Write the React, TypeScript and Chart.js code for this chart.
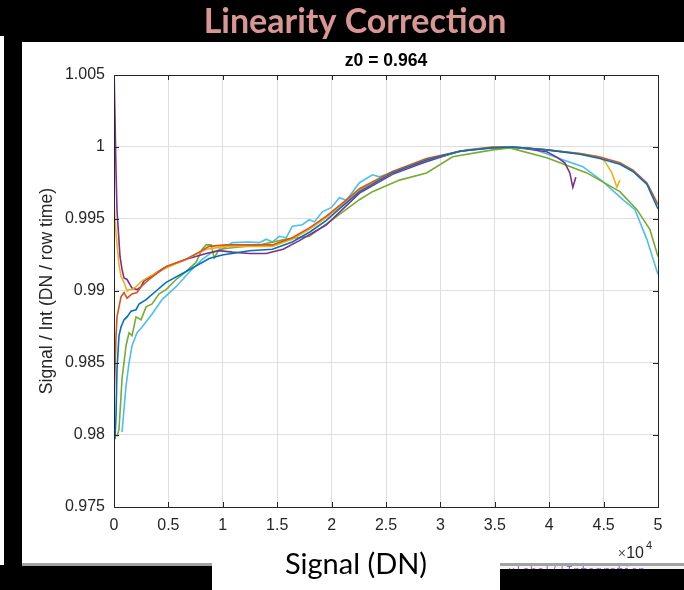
import React, { useEffect, useRef } from "react";
import { Chart, registerables } from "chart.js";

Chart.register(...registerables);

// ---------- data ----------
const headline = "Linearity Correction";
const plotTitle = "z0 = 0.964";
const yAxisTitle = "Signal / Int (DN / row time)";
const xAxisTitle = "Signal (DN)";
const xExponent = "4";

const xTickValues = [0, 5000, 10000, 15000, 20000, 25000, 30000, 35000, 40000, 45000, 50000];
const xTickLabels = ["0", "0.5", "1", "1.5", "2", "2.5", "3", "3.5", "4", "4.5", "5"];
const yTickValues = [0.975, 0.98, 0.985, 0.99, 0.995, 1.0, 1.005];
const yTickLabels = ["0.975", "0.98", "0.985", "0.99", "0.995", "1", "1.005"];

const blueX = [92, 184, 276, 460, 645, 921, 1197, 1565, 2026, 2302, 2947, 3868, 4788, 6630, 8748, 9945, 12431, 14549, 16390, 18000, 19521, 21000, 22560, 25598, 28729, 31768, 34806, 36648, 39779, 42816, 44658, 46500, 47697, 48986, 50000];
const blueY = [0.9797, 0.9813, 0.9846, 0.9869, 0.9875, 0.988, 0.9882, 0.9886, 0.9887, 0.9891, 0.9894, 0.99, 0.9906, 0.99135, 0.99225, 0.9925, 0.9928, 0.9929, 0.9934, 0.9941, 0.9949, 0.9959, 0.9969, 0.9982, 0.9991, 0.9997, 0.99995, 1.0, 0.9998, 0.9995, 0.9992, 0.9988, 0.9983, 0.9974, 0.9957];

const orangeX = [0, 184, 276, 460, 645, 921, 1197, 1657, 2118, 2486, 3223, 4788, 6630, 7827, 8748, 10313, 12431, 14549, 16390, 18000, 19521, 21000, 22560, 25598, 28729, 31768, 34806, 36648, 39779, 42816, 44658, 46500, 47697, 48986, 50000];
const orangeY = [0.9825, 0.9868, 0.9882, 0.9889, 0.9896, 0.9899, 0.9895, 0.9898, 0.9899, 0.9903, 0.9908, 0.9917, 0.9922, 0.9927, 0.9931, 0.9932, 0.9932, 0.9932, 0.9937, 0.9944, 0.9952, 0.9961, 0.9971, 0.9983, 0.9992, 0.9997, 1.0, 1.0, 0.9998, 0.99955, 0.9993, 0.9989, 0.9984, 0.9975, 0.996];

const yellowX = [0, 92, 184, 460, 645, 921, 1197, 1381, 1657, 2026, 2578, 3223, 4788, 6630, 8471, 10313, 12431, 14549, 16390, 18000, 19521, 21000, 22560, 25598, 28729, 31768, 34806, 36648, 39779, 42816, 44658, 45119, 45763, 46224, 46500];
const yellowY = [0.9962, 0.995, 0.994, 0.9918, 0.991, 0.9906, 0.99, 0.9901, 0.9901, 0.9903, 0.9907, 0.991, 0.9916, 0.9922, 0.9929, 0.9931, 0.9931, 0.9931, 0.9936, 0.9943, 0.9951, 0.996, 0.997, 0.9982, 0.9991, 0.9997, 1.0, 1.0, 0.9998, 0.99955, 0.9993, 0.999, 0.9982, 0.9972, 0.9977];

const purpleX = [0, 92, 184, 276, 552, 737, 921, 1197, 1657, 2118, 2486, 2762, 3407, 3960, 4604, 6630, 8471, 9668, 10865, 12431, 14000, 15545, 17035, 19521, 22560, 25598, 28729, 31768, 34806, 36648, 39779, 40700, 41436, 41896, 42172, 42448];
const purpleY = [1.0055, 1.002, 0.9984, 0.9956, 0.9924, 0.9915, 0.9909, 0.9908, 0.9902, 0.9901, 0.9903, 0.9907, 0.991, 0.9913, 0.9916, 0.9922, 0.9926, 0.9928, 0.9927, 0.9926, 0.9926, 0.9929, 0.9935, 0.9946, 0.9968, 0.9981, 0.999, 0.9997, 0.99995, 1.0, 0.99967, 0.9993, 0.9989, 0.9982, 0.9972, 0.9979];

const greenX = [276, 460, 645, 737, 1105, 1381, 1657, 2026, 2486, 2947, 3499, 4144, 4788, 5709, 6630, 7551, 8103, 8471, 8932, 9208, 9668, 10865, 13352, 15838, 17956, 20073, 22560, 23757, 26243, 28729, 31123, 34806, 36372, 39779, 43461, 46500, 48065, 49263, 50000];
const greenY = [0.9799, 0.9804, 0.9827, 0.9839, 0.9862, 0.9871, 0.9869, 0.9882, 0.988, 0.9889, 0.9891, 0.9898, 0.9901, 0.9908, 0.99135, 0.992, 0.9929, 0.9932, 0.9932, 0.9923, 0.9929, 0.993, 0.9932, 0.9936, 0.9938, 0.99495, 0.99634, 0.9969, 0.9977, 0.9982, 0.99932, 0.9998, 0.99994, 0.99925, 0.9982, 0.9969, 0.99565, 0.99426, 0.9924];

const lightBlueX = [737, 1105, 1381, 1657, 2118, 2578, 3499, 4420, 5709, 6906, 8103, 9024, 9945, 10865, 12431, 13352, 13997, 14549, 15193, 15838, 16390, 17311, 17956, 18416, 19153, 19981, 20718, 21363, 22560, 23757, 24401, 26243, 28729, 30571, 32412, 34254, 38213, 41252, 43093, 44935, 46776, 47881, 48986, 50000];
const lightBlueY = [0.9802, 0.9834, 0.985, 0.9862, 0.9871, 0.9875, 0.9884, 0.9894, 0.9903, 0.9913, 0.9922, 0.9927, 0.9929, 0.99336, 0.9934, 0.99336, 0.9936, 0.9934, 0.9938, 0.9937, 0.9945, 0.9946, 0.99495, 0.9948, 0.9955, 0.9958, 0.99648, 0.9963, 0.99752, 0.99807, 0.99793, 0.99842, 0.99897, 0.99946, 0.9998, 0.99994, 0.99994, 0.99911, 0.99863, 0.99759, 0.99634, 0.99565, 0.99357, 0.99114];

const seriesX = [blueX, orangeX, yellowX, purpleX, greenX, lightBlueX];
const seriesY = [blueY, orangeY, yellowY, purpleY, greenY, lightBlueY];
const seriesColors = ["#0072BD", "#D95319", "#EDB120", "#7E2F8E", "#77AC30", "#4DBEEE"];

// ---------- layout ----------
const W = 684;
const H = 590;
const AREA = { left: 114, top: 75, right: 658, bottom: 507 };
const AX = "#262626";
const SANS = "'Liberation Sans', Arial, Helvetica, sans-serif";

const decor = {
  id: "decor",
  beforeDraw(chart: any) {
    const ctx = chart.ctx;
    ctx.save();
    ctx.fillStyle = "#000";
    ctx.fillRect(0, 0, W, H);
    ctx.fillStyle = "#fff";
    ctx.fillRect(22, 42, W - 22, 521);
    ctx.fillRect(0, 36, 4, 529);
    ctx.fillStyle = "#a3a3a3";
    ctx.fillRect(22, 563, W - 22, 3);
    // faint clipped code text at lower right
    ctx.save();
    ctx.beginPath();
    ctx.rect(500, 566, W - 500, 3);
    ctx.clip();
    ctx.fillStyle = "#f4f4f4";
    ctx.fillRect(500, 566, W - 500, 3);
    ctx.fillStyle = "#9a6ad0";
    ctx.font = "12px 'DejaVu Sans Mono', monospace";
    ctx.textBaseline = "top";
    ctx.fillText("xlabel('Integration", 508, 566);
    ctx.restore();
    ctx.fillStyle = "#fff";
    ctx.fillRect(212, 545, 288, 45);
    ctx.restore();
  },
  afterDraw(chart: any) {
    const ctx = chart.ctx;
    const { left, top, right, bottom } = chart.chartArea;
    const xs = chart.scales.x;
    const ys = chart.scales.y;
    ctx.save();
    // box
    ctx.strokeStyle = AX;
    ctx.lineWidth = 1;
    ctx.strokeRect(Math.round(left) + 0.5, Math.round(top) + 0.5, Math.round(right - left), Math.round(bottom - top));
    // inward ticks
    ctx.beginPath();
    xTickValues.forEach((v) => {
      const p = Math.round(xs.getPixelForValue(v)) + 0.5;
      ctx.moveTo(p, bottom);
      ctx.lineTo(p, bottom - 5);
      ctx.moveTo(p, top);
      ctx.lineTo(p, top + 5);
    });
    yTickValues.forEach((v) => {
      const p = Math.round(ys.getPixelForValue(v)) + 0.5;
      ctx.moveTo(left, p);
      ctx.lineTo(left + 5, p);
      ctx.moveTo(right, p);
      ctx.lineTo(right - 5, p);
    });
    ctx.stroke();

    // plot title
    ctx.fillStyle = "#000";
    ctx.font = `bold 17.6px ${SANS}`;
    ctx.textAlign = "center";
    ctx.textBaseline = "alphabetic";
    ctx.fillText(plotTitle, (left + right) / 2, 66);

    // y axis title
    ctx.save();
    ctx.translate(47, (top + bottom) / 2);
    ctx.rotate(-Math.PI / 2);
    ctx.fillStyle = AX;
    ctx.font = `17.6px ${SANS}`;
    ctx.textAlign = "center";
    ctx.textBaseline = "middle";
    ctx.fillText(yAxisTitle, 0, 0);
    ctx.restore();

    // x exponent
    ctx.fillStyle = AX;
    ctx.textAlign = "right";
    ctx.font = `11px ${SANS}`;
    ctx.fillText(xExponent, 652, 549);
    ctx.font = `16px ${SANS}`;
    ctx.fillText("10", 644, 558);
    ctx.font = `14px ${SANS}`;
    ctx.fillStyle = "#555";
    ctx.fillText("\u00d7", 626, 558);

    // headline
    ctx.fillStyle = "#D99694";
    ctx.font = "bold 34px Lato, 'Open Sans', sans-serif";
    ctx.textAlign = "center";
    ctx.textBaseline = "alphabetic";
    ctx.fillText(headline, 355, 33);

    // big x label
    ctx.fillStyle = "#000";
    ctx.font = "29px Lato, 'Open Sans', sans-serif";
    ctx.fillText(xAxisTitle, 356, 574);
    ctx.restore();
  },
};

export default function App() {
  const ref = useRef<HTMLCanvasElement | null>(null);

  useEffect(() => {
    document.body.style.margin = "0";
    let chart: Chart | null = null;
    let cancelled = false;
    const make = () => {
      if (cancelled || !ref.current) return;
      const datasets = seriesX.map((xs, i) => ({
        label: "s" + (i + 1),
        data: xs.map((x, j) => ({ x, y: seriesY[i][j] })),
        borderColor: seriesColors[i],
        backgroundColor: seriesColors[i],
        borderWidth: 1.6,
        pointRadius: 0,
        tension: 0,
        fill: false,
      }));
      chart = new Chart(ref.current, {
        type: "line",
        data: { datasets },
        options: {
          animation: false,
          responsive: false,
          maintainAspectRatio: false,
          devicePixelRatio: 1,
          events: [],
          layout: { padding: { left: 0, right: W - AREA.right, top: AREA.top, bottom: 0 } },
          plugins: { legend: { display: false }, tooltip: { enabled: false }, title: { display: false } },
          scales: {
            x: {
              type: "linear",
              min: 0,
              max: 50000,
              afterBuildTicks: (s: any) => {
                s.ticks = xTickValues.map((v) => ({ value: v }));
              },
              afterFit: (s: any) => {
                s.height = H - AREA.bottom;
              },
              grid: { color: "#dedede", lineWidth: 1, drawTicks: false },
              border: { display: false },
              ticks: {
                autoSkip: false,
                maxRotation: 0,
                padding: 9,
                color: AX,
                font: { family: SANS, size: 16 },
                callback: (v: any) => {
                  const i = xTickValues.indexOf(Number(v));
                  return i >= 0 ? xTickLabels[i] : "";
                },
              },
            },
            y: {
              type: "linear",
              min: 0.975,
              max: 1.005,
              afterBuildTicks: (s: any) => {
                s.ticks = yTickValues.map((v) => ({ value: v }));
              },
              afterFit: (s: any) => {
                s.width = AREA.left;
              },
              grid: { color: "#dedede", lineWidth: 1, drawTicks: false },
              border: { display: false },
              ticks: {
                autoSkip: false,
                padding: 9,
                color: AX,
                font: { family: SANS, size: 16 },
                callback: (v: any) => {
                  const i = yTickValues.findIndex((t) => Math.abs(t - Number(v)) < 1e-9);
                  return i >= 0 ? yTickLabels[i] : "";
                },
              },
            },
          },
        },
        plugins: [decor],
      } as any);
    };
    const fonts = (document as any).fonts;
    if (fonts && fonts.load) {
      Promise.all([
        fonts.load("bold 34px Lato"),
        fonts.load("29px Lato"),
        fonts.load(`16px ${SANS}`),
        fonts.load(`bold 17.6px ${SANS}`),
      ])
        .catch(() => null)
        .then(make);
    } else {
      make();
    }
    return () => {
      cancelled = true;
      if (chart) chart.destroy();
    };
  }, []);

  return (
    <div style={{ position: "fixed", left: 0, top: 0, width: W, height: H, background: "#000" }}>
      <canvas ref={ref} width={W} height={H} style={{ display: "block", width: W, height: H }} />
    </div>
  );
}
